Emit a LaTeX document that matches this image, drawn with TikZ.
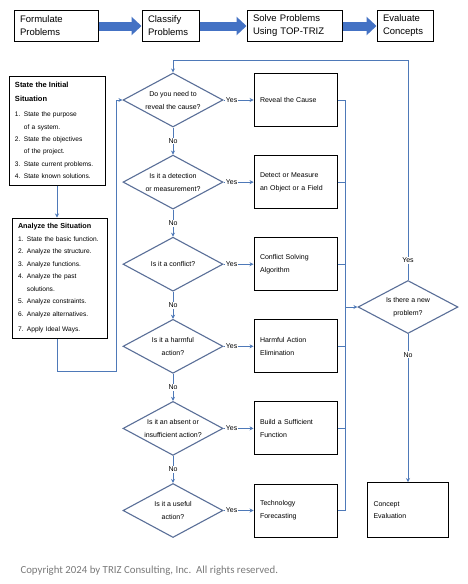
\documentclass[tikz,border=0pt]{standalone}
\usepackage{fontspec}
\setmainfont{Liberation Sans}
\newfontfamily\copyfont{Carlito}
\usetikzlibrary{shapes.geometric, arrows.meta, positioning, calc}

\definecolor{lineblue}{HTML}{4E79B8}
\definecolor{diamondblue}{HTML}{5A6F98}
\definecolor{blockblue}{HTML}{4472C4}
\definecolor{copygray}{HTML}{7A7A7A}

\begin{document}
\begin{tikzpicture}[
    stage/.style={
        draw=black,
        line width=1pt,
        minimum height=31pt,
        inner xsep=6pt,
        align=left,
        font=\fontsize{9.5}{13}\selectfont
    },
    bigarrow/.style={
        draw=blockblue,
        line width=9pt,
        -{Triangle[length=10pt,width=18pt]}
    },
    question/.style={
        diamond,
        aspect=1.85,
        draw=diamondblue,
        line width=1.1pt,
        minimum width=100pt,
        minimum height=54pt,
        inner sep=0pt,
        align=center,
        font=\fontsize{7}{13}\selectfont
    },
    action/.style={
        draw=black,
        line width=1pt,
        minimum width=83pt,
        minimum height=53pt,
        text width=71pt,
        inner xsep=6pt,
        align=left,
        font=\fontsize{7}{12.7}\selectfont
    },
    note/.style={
        draw=black,
        line width=1pt,
        inner xsep=6pt,
        align=left,
        font=\fontsize{6.6}{12.3}\selectfont
    },
    link/.style={
        draw=lineblue,
        line width=0.9pt,
        -{Stealth[length=4pt,width=4pt]}
    },
    plain/.style={
        draw=lineblue,
        line width=0.9pt
    },
    answer/.style={
        fill=white,
        inner sep=1pt,
        font=\fontsize{7}{8}\selectfont
    }
]

\useasboundingbox[fill=white] (0,0) rectangle (468pt,-584pt);

% Stages across the top
\node (formulate) [stage, text width=72pt] at (56pt,-26pt) {Formulate\\Problems};
\node (classify) [stage, text width=45pt, right=43pt of formulate] {Classify\\Problems};
\node (solve) [stage, text width=83pt, right=47pt of classify] {Solve Problems\\Using TOP-TRIZ};
\node (evaluate) [stage, text width=44pt, right=34pt of solve] {Evaluate\\Concepts};

\draw[bigarrow] (formulate) -- (classify);
\draw[bigarrow] (classify) -- (solve);
\draw[bigarrow] (solve) -- (evaluate);

% Situation boxes on the left
\node (sitinit) [note, text width=84pt, minimum height=109pt] at (57pt,-130.5pt)
    {{\fontsize{7.5}{9}\bfseries State the Initial}\\[1.7pt]
     {\fontsize{7.5}{9}\bfseries Situation}\\[2.7pt]
     \makebox[9pt][l]{1.}State the purpose\\
     \hspace*{9pt}of a system.\\
     \makebox[9pt][l]{2.}State the objectives\\
     \hspace*{9pt}of the project.\\
     \makebox[9pt][l]{3.}State current problems.\\
     \makebox[9pt][l]{4.}State known solutions.};

\node (sitanal) [note, text width=83pt, minimum height=120pt, below=32pt of sitinit, xshift=2.5pt,
                 font=\fontsize{6.6}{12.5}\selectfont]
    {{\fontsize{7.2}{9}\bfseries Analyze the Situation}\\
     \makebox[9pt][l]{1.}State the basic function.\\
     \makebox[9pt][l]{2.}Analyze the structure.\\
     \makebox[9pt][l]{3.}Analyze functions.\\
     \makebox[9pt][l]{4.}Analyze the past\\
     \hspace*{9pt}solutions.\\
     \makebox[9pt][l]{5.}Analyze constraints.\\
     \makebox[9pt][l]{6.}Analyze alternatives.\\[2.5pt]
     \makebox[9pt][l]{7.}Apply Ideal Ways.};

% Questions
\node (d1) [question] at (173pt,-100pt) {Do you need to\\reveal the cause?};
\node (d2) [question, below=27pt of d1] {Is it a detection\\or measurement?};
\node (d3) [question, below=27pt of d2] {Is it a conflict?};
\node (d4) [question, below=27pt of d3] {Is it a harmful\\action?};
\node (d5) [question, below=27pt of d4] {Is it an absent or\\insufficient action?};
\node (d6) [question, below=27pt of d5] {Is it a useful\\action?};

% Actions
\node (b1) [action, right=30pt of d1] {Reveal the Cause};
\node (b2) [action, right=30pt of d2] {Detect or Measure\\an Object or a Field};
\node (b3) [action, right=30pt of d3] {Conflict Solving\\Algorithm};
\node (b4) [action, right=30pt of d4] {Harmful Action\\Elimination};
\node (b5) [action, right=30pt of d5] {Build a Sufficient\\Function};
\node (b6) [action, right=30pt of d6] {Technology\\Forecasting};

% New problem check and evaluation
\node (newprob) [question, minimum height=53pt] at (408pt,-307pt) {Is there a new\\problem?};
\node (concept) [action, below=148pt of newprob, minimum width=81pt, text width=69pt, minimum height=55pt]
    {Concept\\Evaluation};

% Yes arrows
\draw[link] (d1) -- node[answer, pos=0.27] {Yes} (b1);
\draw[link] (d2) -- node[answer, pos=0.27] {Yes} (b2);
\draw[link] (d3) -- node[answer, pos=0.27] {Yes} (b3);
\draw[link] (d4) -- node[answer, pos=0.27] {Yes} (b4);
\draw[link] (d5) -- node[answer, pos=0.27] {Yes} (b5);
\draw[link] (d6) -- node[answer, pos=0.27] {Yes} (b6);

% No arrows
\draw[link] (d1) -- node[answer] {No} (d2);
\draw[link] (d2) -- node[answer] {No} (d3);
\draw[link] (d3) -- node[answer] {No} (d4);
\draw[link] (d4) -- node[answer] {No} (d5);
\draw[link] (d5) -- node[answer] {No} (d6);

% Collecting line on the right
\coordinate (bus) at (345pt,0);
\draw[plain] (b1.east) -- (b1.east -| bus);
\draw[plain] (b2.east) -- (b2.east -| bus);
\draw[plain] (b3.east) -- (b3.east -| bus);
\draw[plain] (b4.east) -- (b4.east -| bus);
\draw[plain] (b5.east) -- (b5.east -| bus);
\draw[plain] (b6.east) -- (b6.east -| bus);
\draw[plain] (b1.east -| bus) -- (b6.east -| bus);
\draw[link] (newprob.west -| bus) -- (newprob.west);

% Loop back and end
\coordinate (looptop) at (0,-60pt);
\draw[link] (newprob.north) -- node[answer, pos=0.09] {Yes} (newprob.north |- looptop) -| (d1.north);
\draw[link] (newprob.south) -- node[answer, pos=0.14] {No} (concept.north);

% Left side connections
\coordinate (backbend) at (116pt,-371pt);
\draw[link] (sitinit.south) -- (sitinit.south |- sitanal.north);
\draw[link] (sitanal.south -| sitinit.south) |- (backbend) |- (d1.west);

% Copyright
\node (copy) [anchor=west, text=copygray, font=\copyfont\fontsize{10.8}{13}\selectfont] at (17pt,-571pt)
    {Copyright 2024 by TRIZ Consulting, Inc.\ \ All rights reserved.};

\end{tikzpicture}
\end{document}
